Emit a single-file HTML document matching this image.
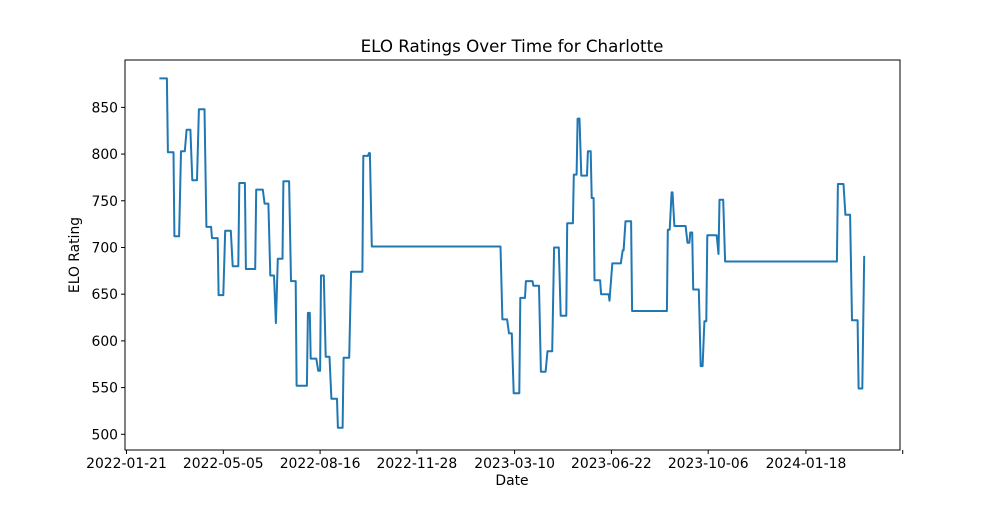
<!DOCTYPE html>
<html><head><meta charset="utf-8"><style>
body{margin:0;background:#fff;}
svg text{font-family:"DejaVu Sans","Liberation Sans",sans-serif;fill:#000;}
</style></head><body>
<svg id="chart" width="1000" height="500" xmlns="http://www.w3.org/2000/svg">
<rect x="0" y="0" width="1000" height="500" fill="#fff"/>
<text x="512" y="52" font-size="16.7" text-anchor="middle">ELO Ratings Over Time for Charlotte</text>
<text x="512" y="485" font-size="13.9" text-anchor="middle">Date</text>
<text x="79" y="255" font-size="13.9" text-anchor="middle" transform="rotate(-90 79 255)">ELO Rating</text>
<g id="xticks"></g>
<g id="yticks"></g>
<path id="line" fill="none" stroke="#1f77b4" stroke-width="2" stroke-linejoin="round"/>
<rect x="125" y="60" width="775" height="390" fill="none" stroke="#000" stroke-width="1"/>
</svg>
<script>
// days since 2022-01-21
const days = [35,43,44,50,51,56,58,62,64,68,70,75,77,83,85,90,91,97,98,103,105,111,113,119,120,126,127,137,138,145,147,151,153,157,159,161,166,167,173,175,180,181,192,193,195,196,202,204,206,207,210,212,216,218,224,225,230,231,237,239,251,252,257,258,259,261,398,400,405,407,410,412,418,419,424,425,432,433,439,441,446,448,453,455,460,462,468,469,475,476,479,480,482,484,490,491,494,495,497,498,504,505,513,514,517,526,528,529,531,537,538,575,576,578,580,581,583,595,597,599,600,602,603,609,611,613,615,617,618,628,630,631,635,637,756,757,763,765,770,772,778,779,783,785];
const ratings = [881,881,802,802,712,712,803,803,826,826,772,772,848,848,722,722,710,710,649,649,718,718,680,680,769,769,677,677,762,762,747,747,670,670,619,688,688,771,771,664,664,552,552,630,630,581,581,568,568,670,670,583,583,538,538,507,507,582,582,674,674,798,798,801,801,701,701,623,623,608,608,544,544,646,646,664,664,659,659,567,567,589,589,700,700,627,627,726,726,778,778,838,838,777,777,803,803,753,753,665,665,650,650,643,683,683,697,697,728,728,632,632,719,719,759,759,723,723,705,705,716,716,655,655,573,573,621,621,713,713,693,751,751,685,685,768,768,735,735,622,622,549,549,691];
const xTickDays = [0,103,206,309,413,516,619,723,826];
const xTickLabels = ["2022-01-21","2022-05-05","2022-08-16","2022-11-28","2023-03-10","2023-06-22","2023-10-06","2024-01-18",""];
const yTickValues = [500,550,600,650,700,750,800,850];

const X0=125,X1=900,Y0=60,Y1=450;
const dMin=-1.6,dMax=823.1,vMin=483.2,vMax=900.7;
function sx(d){return X0+(d-dMin)/(dMax-dMin)*(X1-X0);}
function sy(v){return Y1-(v-vMin)/(vMax-vMin)*(Y1-Y0);}
const NS="http://www.w3.org/2000/svg";
const xg=document.getElementById('xticks'), yg=document.getElementById('yticks');
xTickDays.forEach((d,i)=>{
  const x=sx(d);
  const t=document.createElementNS(NS,'line');
  
  
  t.setAttribute('x1',x);t.setAttribute('x2',x);t.setAttribute('y1',Y1);t.setAttribute('y2',Y1+4);t.setAttribute('stroke','#000');
  xg.appendChild(t);
  const l=document.createElementNS(NS,'text');
  
  
  l.setAttribute('x',x);l.setAttribute('y',Y1+18);l.setAttribute('font-size','13.9');l.setAttribute('text-anchor','middle');
  l.textContent=xTickLabels[i];
  xg.appendChild(l);
});
yTickValues.forEach(v=>{
  const y=sy(v);
  const t=document.createElementNS(NS,'line');
  
  
  t.setAttribute('x1',X0-4);t.setAttribute('x2',X0);t.setAttribute('y1',y);t.setAttribute('y2',y);t.setAttribute('stroke','#000');
  yg.appendChild(t);
  const l=document.createElementNS(NS,'text');
  
  
  l.setAttribute('x',X0-7);l.setAttribute('y',y+5);l.setAttribute('font-size','13.9');l.setAttribute('text-anchor','end');
  l.textContent=v;
  yg.appendChild(l);
});
let d='';
days.forEach((dd,i)=>{d+=(i?'L':'M')+sx(dd).toFixed(1)+' '+sy(ratings[i]).toFixed(1);});
document.getElementById('line').setAttribute('d',d);
</script>
</body></html>
